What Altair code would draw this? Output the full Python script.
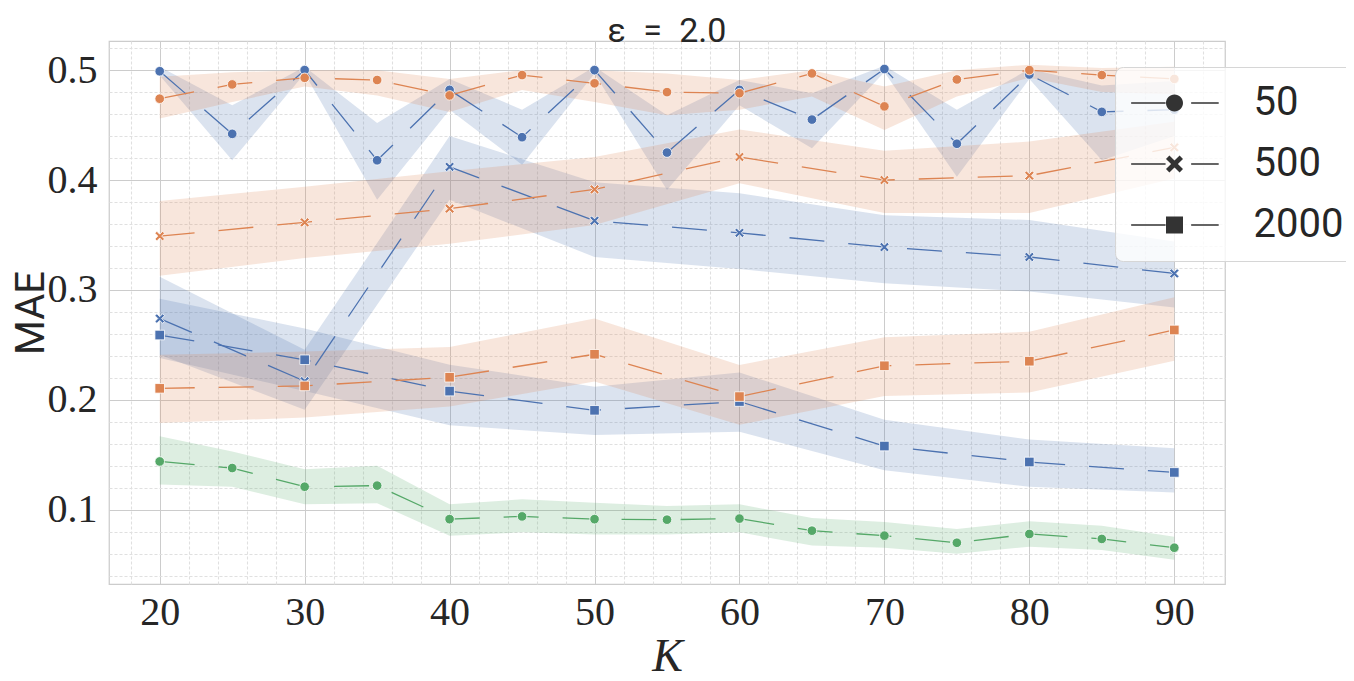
import altair as alt
import pandas as pd

# ---------------- data ----------------
K5 = [20, 25, 30, 35, 40, 45, 50, 55, 60, 65, 70, 75, 80, 85, 90]
K10 = [20, 30, 40, 50, 60, 70, 80, 90]

# blue, n = 50
blue50_mean = [0.499, 0.442, 0.500, 0.418, 0.482, 0.439, 0.500, 0.425, 0.482, 0.455, 0.501, 0.433, 0.496, 0.462, 0.464]
blue50_lo   = [0.495, 0.418, 0.497, 0.382, 0.464, 0.414, 0.497, 0.391, 0.468, 0.429, 0.498, 0.403, 0.492, 0.418, 0.440]
blue50_hi   = [0.503, 0.468, 0.503, 0.452, 0.492, 0.464, 0.503, 0.459, 0.491, 0.479, 0.504, 0.464, 0.501, 0.486, 0.490]
# orange, n = 50
orange50_mean = [0.474, 0.487, 0.493, 0.491, 0.477, 0.4955, 0.488, 0.480, 0.479, 0.497, 0.467, 0.4915, 0.500, 0.4955, 0.492]
orange50_lo   = [0.456, 0.471, 0.485, 0.477, 0.462, 0.482, 0.471, 0.459, 0.464, 0.476, 0.4455, 0.476, 0.493, 0.480, 0.478]
orange50_hi   = [0.494, 0.498, 0.500, 0.500, 0.492, 0.500, 0.500, 0.497, 0.491, 0.500, 0.485, 0.500, 0.505, 0.502, 0.503]
# green, n = 50
green50_mean = [0.144, 0.138, 0.121, 0.122, 0.0915, 0.094, 0.0915, 0.091, 0.092, 0.081, 0.0765, 0.070, 0.078, 0.0735, 0.0655]
green50_lo   = [0.123, 0.121, 0.105, 0.106, 0.0765, 0.0795, 0.0775, 0.0775, 0.0795, 0.0675, 0.0655, 0.060, 0.0665, 0.0635, 0.0545]
green50_hi   = [0.167, 0.153, 0.137, 0.140, 0.105, 0.1095, 0.1065, 0.1035, 0.105, 0.0925, 0.089, 0.0825, 0.0895, 0.0855, 0.0755]
# blue, n = 500
blue500_mean = [0.274, 0.217, 0.412, 0.363, 0.352, 0.339, 0.330, 0.315]
blue500_lo   = [0.241, 0.191, 0.382, 0.330, 0.319, 0.306, 0.2985, 0.284]
blue500_hi   = [0.312, 0.2455, 0.440, 0.398, 0.388, 0.368, 0.3636, 0.344]
# orange, n = 500
orange500_mean = [0.349, 0.3615, 0.374, 0.3915, 0.421, 0.400, 0.404, 0.4297]
orange500_lo   = [0.313, 0.329, 0.342, 0.359, 0.397, 0.370, 0.370, 0.4015]
orange500_hi   = [0.381, 0.394, 0.408, 0.421, 0.446, 0.4267, 0.435, 0.453]
# blue, n = 2000
blue2000_mean = [0.259, 0.2365, 0.208, 0.1905, 0.1985, 0.158, 0.1435, 0.134]
blue2000_lo   = [0.238, 0.208, 0.177, 0.168, 0.171, 0.136, 0.121, 0.1157]
blue2000_hi   = [0.292, 0.265, 0.232, 0.212, 0.225, 0.182, 0.164, 0.156]
# orange, n = 2000
orange2000_mean = [0.2105, 0.2127, 0.2206, 0.2415, 0.203, 0.231, 0.2352, 0.2636]
orange2000_lo   = [0.179, 0.184, 0.194, 0.2167, 0.1773, 0.2036, 0.2067, 0.2355]
orange2000_hi   = [0.241, 0.244, 0.248, 0.274, 0.2318, 0.257, 0.262, 0.2933]

groups = ["A", "B", "C"]
group_colors = ["#4c72b0", "#dd8452", "#55a868"]
sizes = ["50", "500", "2000"]

x_ticks = [20, 30, 40, 50, 60, 70, 80, 90]
x_minor = [18, 22, 24, 26, 28, 32, 34, 36, 38, 42, 44, 46, 48, 52, 54, 56, 58,
           62, 64, 66, 68, 72, 74, 76, 78, 82, 84, 86, 88, 92]
y_ticks = [0.1, 0.2, 0.3, 0.4, 0.5]
y_minor = [0.04, 0.06, 0.08, 0.12, 0.14, 0.16, 0.18, 0.22, 0.24, 0.26, 0.28,
           0.32, 0.34, 0.36, 0.38, 0.42, 0.44, 0.46, 0.48, 0.52]

series = [
    ("A", "50", K5, blue50_mean, blue50_lo, blue50_hi),
    ("B", "50", K5, orange50_mean, orange50_lo, orange50_hi),
    ("C", "50", K5, green50_mean, green50_lo, green50_hi),
    ("A", "500", K10, blue500_mean, blue500_lo, blue500_hi),
    ("B", "500", K10, orange500_mean, orange500_lo, orange500_hi),
    ("A", "2000", K10, blue2000_mean, blue2000_lo, blue2000_hi),
    ("B", "2000", K10, orange2000_mean, orange2000_lo, orange2000_hi),
]
rows = []
for g, n, ks, m, lo, hi in series:
    for k, a, b, c in zip(ks, m, lo, hi):
        rows.append({"K": k, "MAE": a, "lo": b, "hi": c, "group": g, "n": n})
df = pd.DataFrame(rows)

# ---------------- styling ----------------
SERIF = "Liberation Serif, DejaVu Serif, serif"
SANS = "Liberation Sans Narrow, Roboto, DejaVu Sans, sans-serif"
TXT = "#262626"

CIRCLE = "M1,0A1,1,0,1,1,-1,0A1,1,0,1,1,1,0Z"
XSHAPE = "M-1,-0.6L-0.6,-1L0,-0.4L0.6,-1L1,-0.6L0.4,0L1,0.6L0.6,1L0,0.4L-0.6,1L-1,0.6L-0.4,0Z"
SQUARE = "M-1,-1H1V1H-1Z"
# legend handles: thin filled bars either side of the marker
LEG_L = "M-5.1,-0.09H-1.05V0.09H-5.1Z M1.96,-0.09H5.2V0.09H1.96Z"
LEG_C = CIRCLE + " " + LEG_L
LEG_X = XSHAPE + " " + LEG_L
LEG_S = SQUARE + " " + LEG_L

xscale = alt.Scale(domain=[16.5, 93.5], nice=False, zero=False)
yscale = alt.Scale(domain=[0.0325, 0.5265], nice=False, zero=False)
cscale = alt.Scale(domain=groups, range=group_colors)

base = alt.Chart(df)

bands = base.mark_area(opacity=0.2).encode(
    x=alt.X("K:Q", scale=xscale, axis=alt.Axis(
        orient="bottom", values=x_minor, grid=True, labels=False, ticks=False,
        domain=False, title=None, gridColor="#e0e0e0", gridDash=[3, 2],
        gridWidth=1.1, minExtent=0, maxExtent=0)),
    y=alt.Y("lo:Q", scale=yscale, axis=alt.Axis(
        orient="left", values=y_minor, grid=True, labels=False, ticks=False,
        domain=False, title=None, gridColor="#e0e0e0", gridDash=[3, 2],
        gridWidth=1.1, minExtent=0, maxExtent=0)),
    y2="hi:Q",
    color=alt.Color("group:N", scale=cscale, legend=None),
    detail="n:N",
)

lines = base.mark_line(strokeWidth=1.3, strokeDash=[35, 24]).encode(
    x=alt.X("K:Q", scale=xscale, axis=alt.Axis(
        orient="bottom", values=x_ticks, grid=True, gridColor="#cccccc",
        gridWidth=1, ticks=False, domain=False, labelFont=SERIF,
        labelFontSize=40, labelColor=TXT, labelPadding=8,
        title="K", titleFont=SERIF, titleFontStyle="italic",
        titleFontWeight="normal", titleFontSize=46, titleColor=TXT,
        titleBaseline="alphabetic", titleY=86)),
    y=alt.Y("MAE:Q", scale=yscale, axis=alt.Axis(
        orient="left", values=y_ticks, grid=True, gridColor="#cccccc",
        gridWidth=1, ticks=False, domain=False, labelFont=SERIF,
        labelFontSize=40, labelColor=TXT, labelPadding=12,
        labelExpr="format(datum.value, '.1f')",
        title="MAE", titleFont=SANS, titleFontWeight="normal",
        titleFontSize=40, titleColor=TXT, titleX=-58)),
    color=alt.Color("group:N", scale=cscale, legend=None),
    detail="n:N",
)

points = base.mark_point(filled=True, size=92, opacity=1, stroke="white",
                         strokeWidth=0.8).encode(
    x=alt.X("K:Q", scale=xscale, axis=None),
    y=alt.Y("MAE:Q", scale=yscale, axis=None),
    color=alt.Color("group:N", scale=cscale, legend=None),
    shape=alt.Shape("n:N", scale=alt.Scale(domain=sizes, range=[CIRCLE, XSHAPE, SQUARE]),
                    legend=None),
)

legend_layer = base.transform_filter("datum.K < 0").mark_point(
    filled=True, size=289, opacity=1, color="#333333").encode(
    x=alt.X("K:Q", scale=xscale, axis=None),
    y=alt.Y("MAE:Q", scale=yscale, axis=None),
    shape=alt.Shape("n:N", scale=alt.Scale(domain=sizes, range=[LEG_C, LEG_X, LEG_S]),
                    legend=alt.Legend(
                        title=None, orient="none", legendX=1006, legendY=26,
                        labelFont=SANS, labelFontSize=40, labelColor=TXT,
                        labelOffset=59, symbolOffset=23.5, padding=16,
                        rowPadding=21, symbolSize=289,
                        symbolFillColor="#333333", symbolOpacity=1,
                        fillColor="rgba(255,255,255,0.8)", strokeColor="#d6d6d6",
                        cornerRadius=8)),
)

chart = alt.layer(bands, lines, points, legend_layer).resolve_scale(
    shape="independent"
).resolve_axis(x="independent", y="independent").properties(
    width=1116, height=543,
    title=alt.TitleParams("ε\u2002=\u20022.0", font=SANS, fontSize=34,
                          fontWeight="normal", color=TXT, offset=0, dy=8,
                          anchor="middle"),
    autosize=alt.AutoSizeParams(type="none"),
    padding={"left": 101, "top": 33, "right": 121, "bottom": 97},
).configure_view(stroke="#cccccc", strokeWidth=1.25)

chart.save("out.html", embed_options={"renderer": "svg", "actions": False})
